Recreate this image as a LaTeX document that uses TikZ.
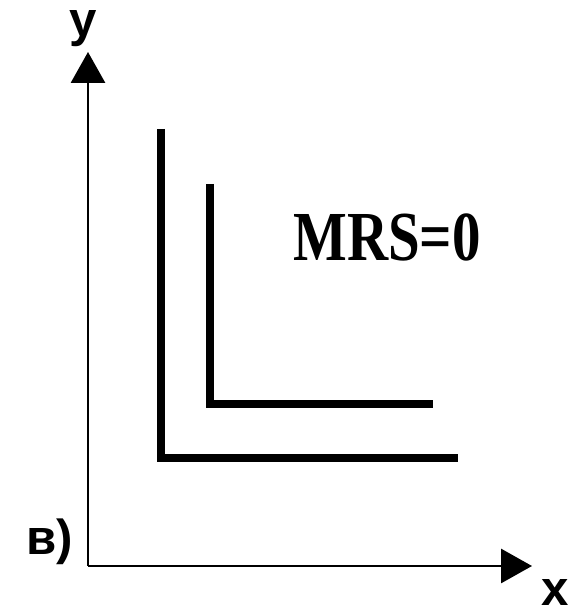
\documentclass[tikz,border=0pt]{standalone}
\usepackage{fontspec}
\setmainfont{Liberation Serif}
\newfontfamily\axisfont{Liberation Sans}
\usetikzlibrary{arrows.meta}

\begin{document}
\begin{tikzpicture}[
  axis/.style={line width=1.7pt,-{Triangle[length=0.62cm,width=0.68cm]}},
  curve/.style={line width=4.5pt,line join=miter},
  lbl/.style={font=\axisfont\bfseries\fontsize{28}{28}\selectfont,inner sep=0pt,anchor=base}]
  \useasboundingbox (0,0) rectangle (11.52,12.28);
  % axes
  \coordinate (O) at (1.76,0.96);
  \coordinate (ytip) at (1.76,11.24);
  \coordinate (xtip) at (10.64,0.96);
  \draw[axis] (O)--(ytip);
  \draw[axis] (O)--(xtip);
  \node[lbl] (ylab) at (1.66,11.55) {y};
  \node[lbl] (xlab) at (11.1,0.16) {x};
  \node[lbl] (part) at (1.0,1.18) {в)};
  % indifference curves
  \draw[curve] (3.22,9.7)--(3.22,3.12)--(9.16,3.12);
  \draw[curve] (4.2,8.6)--(4.2,4.2)--(8.66,4.2);
  \node[inner sep=0pt,xscale=0.81,font=\bfseries\fontsize{40}{40}\selectfont] (mrs) at (7.74,7.54) {MRS=0};
\end{tikzpicture}
\end{document}
